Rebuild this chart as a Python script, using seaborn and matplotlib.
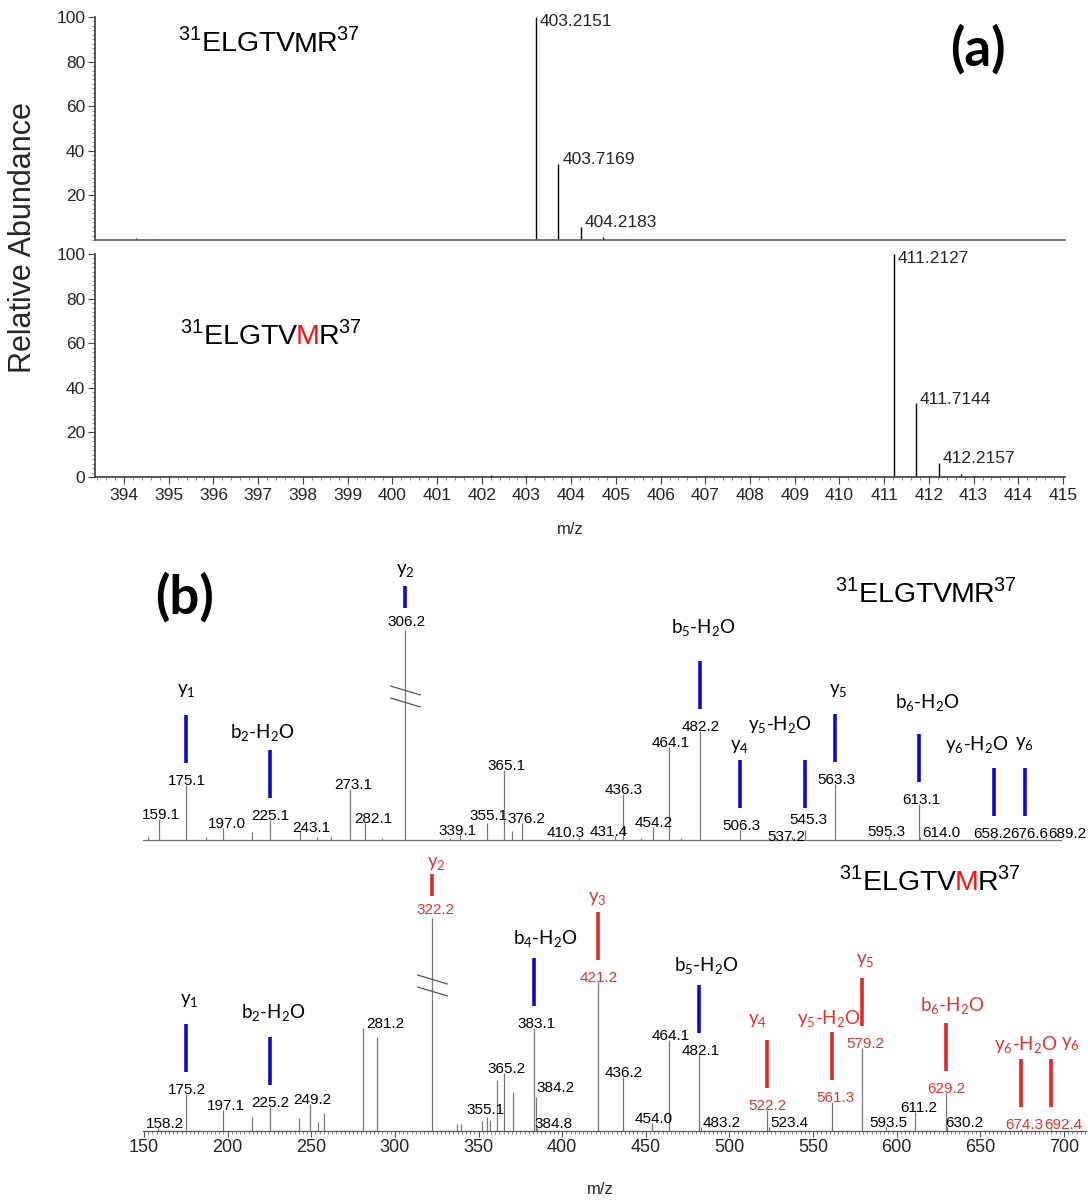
import matplotlib
matplotlib.use("Agg")
import matplotlib.pyplot as plt
import seaborn as sns
import numpy as np
from matplotlib.path import Path
from matplotlib.ticker import MultipleLocator

# ---------------- data ----------------
# (a) MS1 isotope clusters
ms1_top_mz = [394.27, 394.76, 403.2151, 403.7169, 404.2183, 404.72, 405.23]
ms1_top_int = [1.0, 0.5, 100.0, 34.3, 6.0, 1.4, 0.5]
ms1_top_lab = [403.2151, 403.7169, 404.2183]
ms1_bot_mz = [402.20, 410.10, 411.2127, 411.7144, 412.2157, 412.72, 413.22]
ms1_bot_int = [0.8, 0.4, 100.0, 33.0, 6.3, 1.2, 0.4]
ms1_bot_lab = [411.2127, 411.7144, 412.2157]

# (b) MS/MS, unmodified peptide (labelled peaks)
top_mz = [159.1, 175.1, 197.0, 225.1, 243.1, 273.1, 282.1, 306.2, 339.1, 355.1,
          365.1, 376.2, 410.3, 431.4, 436.3, 454.2, 464.1, 482.2, 506.3, 537.2,
          545.3, 563.3, 595.3, 613.1, 614.0, 658.2, 676.6, 689.2]
top_int = [14.0, 36.7, 8.0, 13.3, 6.7, 34.0, 11.3, 140.0, 3.3, 11.3,
           46.7, 11.3, 2.0, 2.7, 30.7, 8.5, 61.8, 72.9, 6.7, 2.0,
           6.7, 37.3, 2.7, 24.0, 2.0, 1.3, 1.3, 1.3]
top_minor_mz = [152.5, 187.0, 214.4, 253.3, 262.0, 292.0, 333.0, 369.8, 447.0, 471.0]
top_minor_int = [2.0, 2.0, 5.3, 2.0, 2.0, 1.5, 1.5, 6.0, 1.5, 1.5]

# (b) MS/MS, oxidised peptide (labelled peaks)
bot_mz = [158.2, 175.2, 197.1, 225.2, 249.2, 281.2, 322.2, 355.1, 365.2, 383.1,
          384.2, 384.8, 421.2, 436.2, 454.0, 464.1, 482.1, 483.2, 522.2, 523.4,
          561.3, 579.2, 593.5, 611.2, 629.2, 630.2, 674.3, 692.4]
bot_int = [2.0, 25.0, 14.0, 16.2, 17.8, 68.5, 141.8, 9.5, 38.5, 68.5,
           22.9, 2.0, 99.5, 36.2, 5.1, 60.7, 50.7, 2.7, 14.0, 2.7,
           19.1, 55.5, 2.7, 12.9, 25.1, 2.7, 1.3, 1.3]
bot_red = [322.2, 421.2, 522.2, 561.3, 579.2, 629.2, 674.3, 692.4]
bot_minor_mz = [214.4, 242.7, 254.0, 257.6, 289.1, 337.0, 339.5, 351.9, 357.0, 361.0, 370.4]
bot_minor_int = [9.5, 8.9, 6.2, 11.8, 62.9, 5.0, 5.0, 6.7, 7.3, 34.0, 26.2]

# fragment ion assignments
top_ion_mz = [175.1, 225.1, 306.2, 482.2, 506.3, 545.3, 563.3, 613.1, 658.2, 676.6]
top_ion = ["y1", "b2-H2O", "y2", "b5-H2O", "y4", "y5-H2O", "y5", "b6-H2O", "y6-H2O", "y6"]
bot_ion_mz = [175.2, 225.2, 322.2, 383.1, 421.2, 482.1, 522.2, 561.3, 579.2, 629.2, 674.3, 692.4]
bot_ion = ["y1", "b2-H2O", "y2", "b4-H2O", "y3", "b5-H2O", "y4", "y5-H2O", "y5", "b6-H2O", "y6-H2O", "y6"]
bot_ion_red = ["y2", "y3", "y4", "y5-H2O", "y5", "b6-H2O", "y6-H2O", "y6"]

# ---------------- layout / style ----------------
W, H = 1088, 1200
SANS = "Liberation Sans"
ION = "Lato"
BLUE = "#0b0bcc"
RED = "#e02828"
RED_TXT = "#e03434"
GRAY = "#7a7a7a"

# label nudges in pixels (dx, dy)
top_lab_dx = {159.1: 2, 197.0: 4, 243.1: 12, 273.1: 3, 282.1: 8, 339.1: -3, 365.1: 3,
              376.2: 4, 410.3: -14, 431.4: -6, 537.2: -5, 545.3: 3, 595.3: -2,
              613.1: 3, 614.0: 21, 658.2: -2, 676.6: 4, 689.2: 21}
top_lab_dy = {537.2: -4, 545.3: 6, 355.1: 3, 243.1: -2}
bot_lab_dx = {158.2: 7, 197.1: 3, 249.2: 2, 281.2: 22, 322.2: 3, 355.1: -2, 365.2: 3,
              383.1: 3, 384.2: 20, 384.8: 17, 483.2: 20, 523.4: 21, 561.3: 3,
              579.2: 3, 593.5: 3, 611.2: 3, 630.2: 17, 674.3: 3, 692.4: 12}
bot_lab_dy = {384.2: 5, 355.1: 3}
top_ion_dx = {"b2-H2O": -7, "b5-H2O": 4, "y5-H2O": -25, "y5": 3, "b6-H2O": 9, "y6-H2O": -17}
top_ion_gap = {"y1": 24, "b2-H2O": 17, "y2": 15, "b5-H2O": 32, "y4": 13, "y5-H2O": 35,
               "y5": 23, "b6-H2O": 31, "y6-H2O": 23, "y6": 24}
bot_ion_dx = {"y1": 3, "b2-H2O": 4, "y2": 4, "b4-H2O": 11, "b5-H2O": 7, "y4": -9,
              "y5-H2O": -3, "y5": 3, "b6-H2O": 7, "y6-H2O": 5, "y6": 19}
bot_ion_gap = {"y1": 22, "b2-H2O": 23, "y2": 10, "b4-H2O": 19, "y3": 12, "b5-H2O": 19,
               "y4": 19, "y5-H2O": 13, "y5": 16, "b6-H2O": 17, "y6-H2O": 14, "y6": 15}

sns.set_theme(style="ticks")
plt.rcParams["font.family"] = [SANS, "DejaVu Sans"]
plt.rcParams["mathtext.fontset"] = "custom"
plt.rcParams["mathtext.rm"] = SANS


def box(l, t, r, b):
    return [l / W, 1 - b / H, (r - l) / W, (b - t) / H]


def ion_tex(name):
    out = ""
    for ch in name:
        out += r"$_\mathdefault{%s}$" % ch if ch.isdigit() else ch
    return out


def peptide(ax, x, y, red=False, size=20.5):
    kw = dict(fontsize=size, family=SANS, color="black")
    t = ax.text(x, y, r"$^\mathdefault{31}$ELGTV", ha="left", va="center", **kw)
    kw2 = dict(kw)
    kw2["color"] = "#ff1010" if red else "black"
    t = ax.annotate("M", xy=(1, 0), xycoords=t, xytext=(-3, 0), textcoords="offset pixels",
                    ha="left", va="bottom", **kw2)
    ax.annotate(r"R$^\mathdefault{37}$", xy=(1, 0), xycoords=t, xytext=(-1, 0),
                textcoords="offset pixels", ha="left", va="bottom", **kw)


fig = plt.figure(figsize=(W / 100, H / 100), dpi=100)

# ---------------- panel (a) ----------------
axa1 = fig.add_axes(box(95, 17, 1065, 240))
axa2 = fig.add_axes(box(95, 254, 1065, 477), sharex=axa1)
for ax, mz, inten, lab in [(axa1, ms1_top_mz, ms1_top_int, ms1_top_lab),
                           (axa2, ms1_bot_mz, ms1_bot_int, ms1_bot_lab)]:
    ax.vlines(mz, 0, inten, color="black", lw=1.0)
    for m, h in zip(mz, inten):
        if m in lab:
            ax.annotate(f"{m:.4f}", xy=(m, min(h, 96)), xytext=(4, 4),
                        textcoords="offset pixels", ha="left", va="center",
                        fontsize=12.5, family=SANS)
    ax.set_ylim(0, 100)
    ax.yaxis.set_major_locator(MultipleLocator(20))
    ax.yaxis.set_minor_locator(MultipleLocator(2))
    ax.tick_params(axis="y", which="major", length=5, width=0.8, labelsize=12.5, pad=2,
                   color="#444")
    ax.tick_params(axis="y", which="minor", length=2.5, width=0.6, color="#777")
    sns.despine(ax=ax)
    ax.spines["left"].set_color("#444")
    ax.spines["bottom"].set_color("#666")
    ax.set_facecolor("none")

axa1.set_xlim(393.3514, 415.0447)
axa1.set_yticks([20, 40, 60, 80, 100])
axa1.tick_params(axis="x", which="both", bottom=False, labelbottom=False)
axa2.xaxis.set_major_locator(MultipleLocator(1))
axa2.xaxis.set_minor_locator(MultipleLocator(0.2))
axa2.tick_params(axis="x", which="major", length=5, width=0.8, labelsize=12.5, pad=3,
                 color="#444")
axa2.tick_params(axis="x", which="minor", length=2.5, width=0.6, color="#777")
axa2.spines["bottom"].set_color("#444")

peptide(axa1, 395.2, 88.5)
peptide(axa2, 395.25, 63.5, red=True)

fig.text(23 / W, 1 - 238 / H, "Relative Abundance", rotation=90, ha="center",
         va="center", fontsize=22, family=SANS)
fig.text(570 / W, 1 - 529 / H, "m/z", ha="center", va="center", fontsize=12, family=SANS)
fig.text(978 / W, 1 - 49 / H, "(a)", ha="center", va="center", fontsize=38,
         weight="bold", family=ION, color="black")

# ---------------- panel (b) ----------------
axb1 = fig.add_axes(box(143, 540, 1086, 840))
axb2 = fig.add_axes(box(143, 850, 1086, 1131), sharex=axb1)
axb1.set_xlim(149.40, 713.17)
axb1.set_ylim(0, 200)
axb2.set_ylim(0, (1131 - 850) / 1.5)
ypx = 1.5  # pixels per intensity unit in both spectra

brk = Path([(-1, 0.3), (1, -0.3)], [Path.MOVETO, Path.LINETO])

spectra = [
    (axb1, top_mz, top_int, top_minor_mz, top_minor_int, top_lab_dx, top_lab_dy, [], 306.2,
     top_ion_mz, top_ion, top_ion_dx, top_ion_gap, []),
    (axb2, bot_mz, bot_int, bot_minor_mz, bot_minor_int, bot_lab_dx, bot_lab_dy, bot_red, 322.2,
     bot_ion_mz, bot_ion, bot_ion_dx, bot_ion_gap, bot_ion_red),
]
for (ax, mz, inten, mmz, mint, ldx, ldy, reds, trunc, imz, iname, idx, igap, ired) in spectra:
    ax.vlines(mmz, 0, mint, color=GRAY, lw=0.9)
    ax.vlines(mz, 0, inten, color=GRAY, lw=0.9)
    height = dict(zip(mz, inten))
    for m, h in zip(mz, inten):
        col = RED_TXT if m in reds else "black"
        dy = 4 if m == trunc else ldy.get(m, 0)
        ax.annotate(f"{m:.1f}", xy=(m, h), xytext=(ldx.get(m, 1), dy),
                    textcoords="offset pixels", ha="center", va="baseline",
                    fontsize=11, family=SANS, color=col)
    # axis break on the truncated base peak
    ht = height[trunc]
    ax.plot([trunc, trunc], [ht * 0.714, ht * 0.657], ls="none", marker=brk, ms=22,
            mew=0.9, mec="#555", mfc="none")
    # fragment assignment bars and labels
    for m, name in zip(imz, iname):
        h = height[m]
        length = 22 if name == "y2" else 48
        b0 = h + 22 / ypx
        b1 = b0 + length / ypx
        is_red = name in ired
        ax.vlines(m, b0, b1, color=RED if is_red else BLUE, lw=2.6)
        ax.annotate(ion_tex(name), xy=(m, b1), xytext=(idx.get(name, 0), igap.get(name, 18)),
                    textcoords="offset pixels", ha="center", va="center",
                    fontsize=13.5, family=ION, color=RED_TXT if is_red else "black")
    ax.set_facecolor("none")

sns.despine(ax=axb1, left=True)
axb1.spines["bottom"].set_bounds(149.4, 698.5)
axb1.spines["bottom"].set_color("#777")
axb1.spines["bottom"].set_linewidth(0.9)
axb1.tick_params(axis="both", which="both", left=False, labelleft=False,
                 bottom=False, labelbottom=False)

sns.despine(ax=axb2, left=True)
axb2.spines["bottom"].set_color("#555")
axb2.spines["bottom"].set_linewidth(0.9)
axb2.tick_params(axis="y", which="both", left=False, labelleft=False)
axb2.xaxis.set_major_locator(MultipleLocator(50))
axb2.xaxis.set_minor_locator(MultipleLocator(2.5))
axb2.tick_params(axis="x", which="major", length=4, width=0.8, labelsize=13, pad=2,
                 color="#555", bottom=True, labelbottom=True)
axb2.tick_params(axis="x", which="minor", length=2, width=0.6, color="#777", bottom=True)

peptide(axb1, 563.1, 164.7)
peptide(axb2, 565.5, 166.7, red=True)

fig.text(600 / W, 1 - 1190 / H, "m/z", ha="center", va="center", fontsize=12, family=SANS)
fig.text(185 / W, 1 - 597 / H, "(b)", ha="center", va="center", fontsize=38,
         weight="bold", family=ION, color="black")

fig.savefig("out.png", dpi=100)
